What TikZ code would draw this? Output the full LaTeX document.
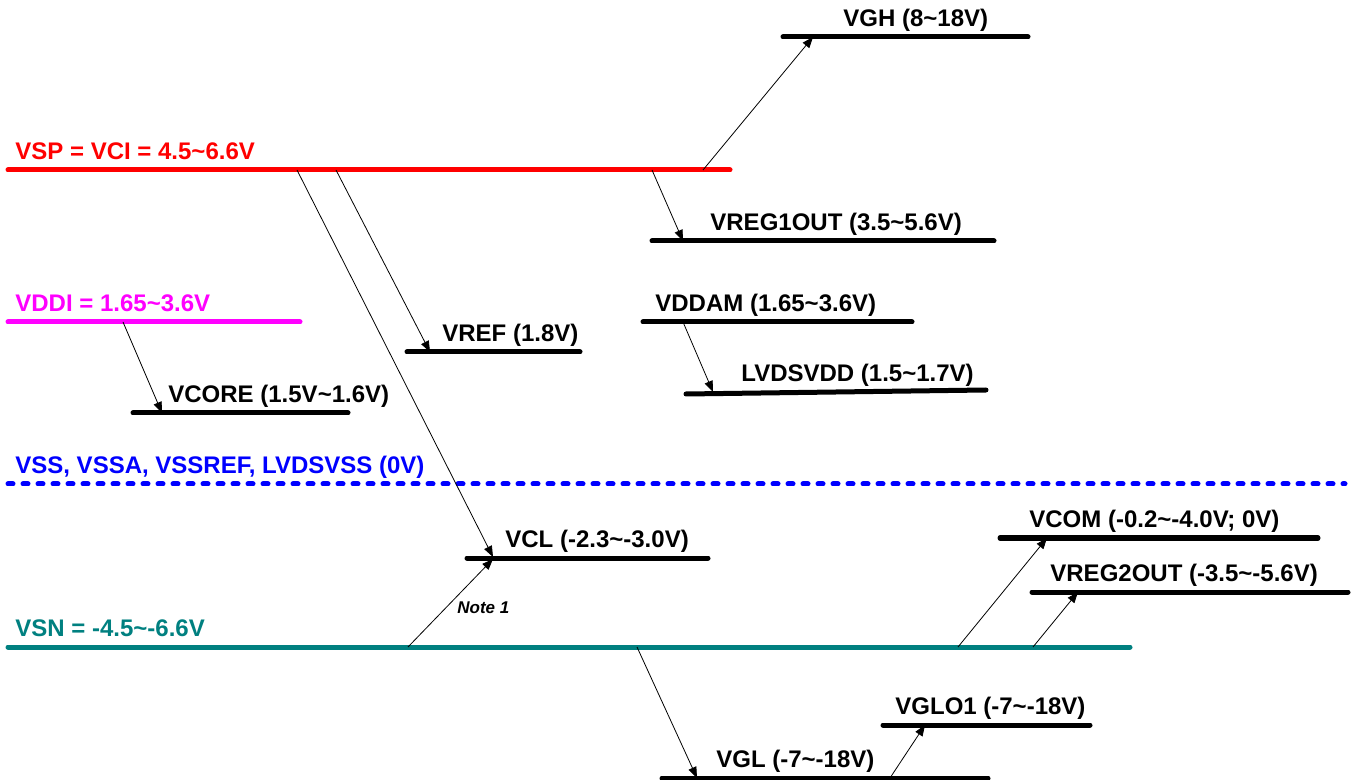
\documentclass[tikz,border=0pt]{standalone}
\usepackage{fontspec}
\setmainfont{Liberation Sans}
\usetikzlibrary{arrows.meta}
\definecolor{vspred}{RGB}{255,0,0}
\definecolor{vddipink}{RGB}{255,0,255}
\definecolor{vssblue}{RGB}{0,0,255}
\definecolor{vsnteal}{RGB}{0,128,128}
\newcommand\tld{\textasciitilde}

\begin{document}
\begin{tikzpicture}[x=0.5pt, y=-0.5pt,
    rail/.style={line width=2.5pt, line cap=round},
    lbl/.style={anchor=base west, inner sep=0pt, font=\fontsize{12}{14}\selectfont\bfseries},
    feed/.style={-{Triangle[length=5.5pt, width=4.2pt]}, line width=0.4pt}]
  \useasboundingbox (0,0) rectangle (1355,780);

  % rails
  \draw[rail] (783,37) -- (1028,37);
  \draw[rail, vspred] (8,170) -- (730,170);
  \draw[rail] (652,241) -- (994,241);
  \draw[rail, vddipink] (8,322) -- (300,322);
  \draw[rail] (407,352) -- (580,352);
  \draw[rail] (643,322) -- (912,322);
  \draw[rail] (686,394) -- (986,390);
  \draw[rail] (133,413) -- (348,413);
  \draw[rail, vssblue, dash pattern=on 2.5pt off 5pt] (8,484) -- (1345,484);
  \draw[rail] (467,558) -- (708,558);
  \draw[rail] (1000,538) -- (1318,538);
  \draw[rail] (1032,592) -- (1348,592);
  \draw[rail, vsnteal] (8,647) -- (1130,647);
  \draw[rail] (883,725) -- (1090,725);
  \draw[rail] (662,778) -- (988,778);

  % labels
  \node[lbl] (vgh) at (843,26.5) {VGH (8\tld 18V)};
  \node[lbl, text=vspred] (vsp) at (15,159.5) {VSP = VCI = 4.5\tld 6.6V};
  \node[lbl] (vreg1) at (710,230.5) {VREG1OUT (3.5\tld 5.6V)};
  \node[lbl, text=vddipink] (vddi) at (15,311.5) {VDDI = 1.65\tld 3.6V};
  \node[lbl] (vref) at (442,341.5) {VREF (1.8V)};
  \node[lbl] (vddam) at (655,311.5) {VDDAM (1.65\tld 3.6V)};
  \node[lbl] (lvds) at (741,381.5) {LVDSVDD (1.5\tld 1.7V)};
  \node[lbl] (vcore) at (168,402.5) {VCORE (1.5V\tld 1.6V)};
  \node[lbl, text=vssblue] (vss) at (15,473.5) {VSS, VSSA, VSSREF, LVDSVSS (0V)};
  \node[lbl] (vcl) at (505,547.5) {VCL (-2.3\tld -3.0V)};
  \node[lbl] (vcom) at (1029,527.5) {VCOM (-0.2\tld -4.0V; 0V)};
  \node[lbl] (vreg2) at (1050,581.5) {VREG2OUT (-3.5\tld -5.6V)};
  \node[lbl, text=vsnteal] (vsn) at (15,636.5) {VSN = -4.5\tld -6.6V};
  \node[lbl] (vglo) at (895,714.5) {VGLO1 (-7\tld -18V)};
  \node[lbl] (vgl) at (716,767.5) {VGL (-7\tld -18V)};
  \node[lbl, font=\fontsize{8.5}{10}\selectfont\bfseries\itshape] (note) at (457,613) {Note 1};

  % tap points
  \coordinate (vsp-a) at (703,170);  \coordinate (vgh-a) at (813,37);
  \coordinate (vsp-b) at (652,170);  \coordinate (vreg1-a) at (683,241);
  \coordinate (vsp-c) at (336,170);  \coordinate (vref-a) at (430,352);
  \coordinate (vsp-d) at (297,170);  \coordinate (vcl-a) at (493,557);
  \coordinate (vddi-a) at (123,322); \coordinate (vcore-a) at (162,413);
  \coordinate (vddam-a) at (683,322); \coordinate (lvds-a) at (713,392);
  \coordinate (vsn-a) at (408,647);  \coordinate (vcl-b) at (493,559);
  \coordinate (vsn-b) at (958,647);  \coordinate (vcom-a) at (1047,538);
  \coordinate (vsn-c) at (1033,647); \coordinate (vreg2-a) at (1078,592);
  \coordinate (vsn-d) at (637,647);  \coordinate (vgl-a) at (697,778);
  \coordinate (vgl-b) at (890,778);  \coordinate (vglo-a) at (925,725);

  % derived supplies
  \draw[feed] (vsp-a) -- (vgh-a);
  \draw[feed] (vsp-b) -- (vreg1-a);
  \draw[feed] (vsp-c) -- (vref-a);
  \draw[feed] (vsp-d) -- (vcl-a);
  \draw[feed] (vddi-a) -- (vcore-a);
  \draw[feed] (vddam-a) -- (lvds-a);
  \draw[feed] (vsn-a) -- (vcl-b);
  \draw[feed] (vsn-b) -- (vcom-a);
  \draw[feed] (vsn-c) -- (vreg2-a);
  \draw[feed] (vsn-d) -- (vgl-a);
  \draw[feed] (vgl-b) -- (vglo-a);
\end{tikzpicture}
\end{document}
